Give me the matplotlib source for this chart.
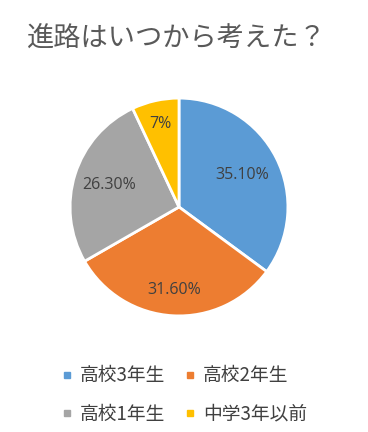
import matplotlib
matplotlib.use("Agg")
import matplotlib.pyplot as plt
from matplotlib.lines import Line2D
import numpy as np

plt.rcParams['font.family'] = ['Noto Sans CJK JP', 'DejaVu Sans']

title = "進路はいつから考えた？"
categories = ["高校3年生", "高校2年生", "高校1年生", "中学3年以前"]
values = [35.1, 31.6, 26.3, 7.0]
value_labels = ["35.10%", "31.60%", "26.30%", "7%"]
colors = ["#5B9BD5", "#ED7D31", "#A5A5A5", "#FFC000"]
label_dist = [0.65, 0.76, 0.67, 0.78]

fig = plt.figure(figsize=(3.68, 4.32), dpi=100)
fig.patch.set_facecolor("white")

ax = fig.add_axes([69/368, 1-317/432, 220/368, 220/432])
wedges, texts = ax.pie(values, colors=colors, startangle=90, counterclock=False,
                       labels=value_labels, labeldistance=0.7,
                       wedgeprops=dict(edgecolor="white", linewidth=2),
                       textprops=dict(color="#404040", fontsize=11.5,
                                      family=["Open Sans", "DejaVu Sans"]))
for w, t, d in zip(wedges, texts, label_dist):
    ang = np.deg2rad((w.theta1 + w.theta2) / 2)
    t.set_position((d*np.cos(ang), d*np.sin(ang)))
    t.set_ha("center"); t.set_va("center")
ax.set_xlim(-1.01, 1.01)
ax.set_ylim(-1.01, 1.01)
ax.set_aspect("equal")
ax.axis("off")

fig.text(27/368, 1-38/432, title, fontsize=19.6, color="#595959", ha="left", va="center")

handles = [Line2D([0], [0], marker="s", linestyle="none", markersize=5,
                  markerfacecolor=c, markeredgecolor=c) for c in colors]
order = [0, 2, 1, 3]
leg = fig.legend([handles[i] for i in order], [categories[i] for i in order],
                 loc="center", ncol=2,
                 bbox_to_anchor=(183/368, 1-395/432), frameon=False,
                 fontsize=13.5, labelcolor="#404040", handletextpad=0.3,
                 columnspacing=0.9, labelspacing=0.95, handlelength=0.8)

fig.savefig("out.png", dpi=100, facecolor="white")
